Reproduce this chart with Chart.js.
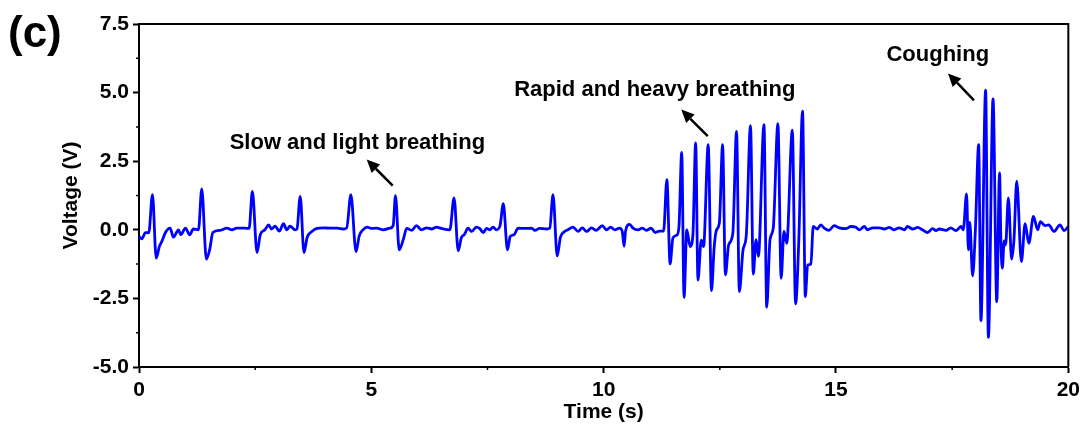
<!DOCTYPE html>
<html>
<head>
<meta charset="utf-8">
<script src="https://cdn.jsdelivr.net/npm/chart.js@4.4.1/dist/chart.umd.min.js"></script>
<style>
  html, body { margin:0; padding:0; background:#fff; }
</style>
</head>
<body>
<canvas id="chart" width="1085" height="425"></canvas>
<script>
// signal: time (s) and voltage (V)
const timeS = [
  0.00,0.06,0.14,0.21,0.29,0.37,0.44,0.49,0.57,0.67,0.74,0.85,0.90,1.00,1.09,1.17,1.28,1.35,1.45,1.52,
  1.59,1.75,1.89,2.00,2.10,2.28,2.37,2.44,2.54,2.61,2.71,2.79,2.85,2.93,3.02,3.11,3.18,3.25,3.36,3.40,
  3.47,3.55,3.62,3.72,3.83,3.97,4.11,4.26,4.40,4.47,4.56,4.67,4.74,4.82,4.91,5.00,5.11,5.26,5.40,5.47,
  5.52,5.60,5.69,5.76,5.87,5.97,6.08,6.19,6.30,6.40,6.51,6.69,6.78,6.87,6.94,7.00,7.08,7.16,7.26,7.33,
  7.41,7.48,7.55,7.62,7.69,7.77,7.84,7.93,7.99,8.07,8.16,8.30,8.45,8.52,8.62,8.77,8.84,8.91,9.00,9.07,
  9.16,9.23,9.34,9.45,9.54,9.63,9.74,9.84,9.97,10.06,10.15,10.24,10.34,10.40,10.44,10.47,10.56,10.63,10.74,10.83,
  10.92,11.02,11.11,11.20,11.29,11.36,11.43,11.49,11.57,11.62,11.68,11.73,11.79,11.86,11.92,11.98,12.03,12.10,12.15,12.25,
  12.32,12.38,12.43,12.49,12.56,12.62,12.69,12.78,12.86,12.92,13.00,13.07,13.16,13.22,13.28,13.33,13.45,13.51,13.58,13.65,
  13.75,13.82,13.88,13.94,14.06,14.13,14.20,14.28,14.34,14.39,14.46,14.51,14.60,14.67,14.74,14.85,14.96,15.07,15.21,15.32,
  15.43,15.50,15.61,15.68,15.79,15.93,16.04,16.15,16.25,16.36,16.47,16.54,16.65,16.76,16.86,16.97,17.08,17.15,17.22,17.37,
  17.47,17.58,17.69,17.74,17.81,17.85,17.88,17.94,18.00,18.07,18.12,18.22,18.28,18.38,18.46,18.52,18.55,18.58,18.62,18.65,
  18.71,18.78,18.83,18.89,18.99,19.07,19.15,19.25,19.34,19.40,19.50,19.58,19.69,19.82,19.91,20.00
];
const voltV = [
  -0.24,-0.33,-0.10,-0.11,1.28,-1.03,-0.60,-0.43,-0.10,0.06,-0.27,0.00,-0.18,0.06,-0.18,0.03,0.00,1.49,-1.07,-0.73,
  -0.10,-0.02,0.06,0.00,0.06,0.06,0.05,1.40,-0.83,-0.18,0.00,0.18,0.03,0.13,-0.05,0.22,0.00,0.13,0.00,0.03,
  1.22,-0.83,-0.27,-0.06,0.05,0.07,0.06,0.06,0.03,0.07,1.28,-0.79,-0.22,0.00,0.10,0.05,0.06,0.00,0.06,0.15,
  1.24,-0.73,-0.34,0.05,-0.02,0.15,0.00,0.07,0.03,0.10,0.05,0.00,1.16,-0.76,-0.27,-0.18,0.06,-0.06,0.10,0.05,
  -0.10,0.05,0.00,0.10,0.00,0.15,0.95,-0.73,-0.24,-0.18,0.06,0.05,0.06,-0.02,0.05,0.03,0.06,1.28,-0.95,-0.27,
  -0.06,0.00,0.10,-0.06,0.07,-0.06,0.07,-0.02,0.15,0.00,0.10,0.00,0.06,-0.06,-0.60,-0.06,0.20,0.06,0.00,0.06,
  -0.02,0.06,-0.10,-0.05,-0.05,1.83,-1.24,-0.30,-0.20,0.10,2.82,-2.46,0.00,-0.61,-0.20,3.17,-1.83,-0.38,-0.61,3.10,
  -2.22,-0.60,0.00,0.25,3.10,-1.64,-0.55,-0.12,3.59,-2.25,-0.73,-0.18,3.80,-1.61,-0.36,-0.97,3.83,-2.82,-0.36,0.06,
  3.87,-1.77,-0.06,-0.49,3.63,-2.70,-0.37,4.32,-2.43,-1.28,-1.25,0.12,0.03,0.18,0.07,-0.02,0.15,0.07,0.04,0.12,
  0.09,0.00,0.12,0.00,0.07,0.07,0.03,0.09,0.00,0.07,0.00,0.12,0.03,0.09,0.00,-0.10,0.04,-0.03,0.03,-0.02,
  0.07,-0.03,0.12,0.00,1.31,-0.73,0.27,-1.68,0.00,3.10,-3.31,5.09,-3.92,4.77,-2.62,2.07,-0.49,-1.40,-0.40,-0.55,
  1.16,-1.07,-0.37,1.77,-1.16,0.22,-0.49,0.49,0.00,0.30,0.15,0.18,-0.06,0.18,-0.03,0.12
];

const xRange = [0, 20];
const yRange = [-5, 7.5];
const xMajor = 5, xMinor = 2.5;
const yMajor = 2.5, yMinor = 1.25;

// annotations, in data units
const noteText = ['Slow and light breathing', 'Rapid and heavy breathing', 'Coughing'];
const noteAt   = [[4.70, 3.18], [11.10, 5.11], [17.19, 6.39]];
const arrowTail = [[5.46, 1.61], [12.24, 3.41], [17.97, 4.72]];
const arrowHead = [[4.90, 2.56], [11.67, 4.38], [17.41, 5.70]];

const FONT = '"Liberation Sans", Arial, sans-serif';
const isMajor = (v, step) => Math.abs(v / step - Math.round(v / step)) < 1e-6;

const extras = {
  id: 'extras',
  afterDraw(chart) {
    const ctx = chart.ctx, a = chart.chartArea;
    const xs = chart.scales.x, ys = chart.scales.y;
    ctx.save();
    // top and right frame
    ctx.strokeStyle = '#000'; ctx.lineWidth = 2;
    ctx.beginPath();
    ctx.moveTo(a.left, a.top); ctx.lineTo(a.right, a.top); ctx.lineTo(a.right, a.bottom);
    ctx.stroke();
    // minor ticks
    ctx.lineWidth = 1.5;
    ctx.beginPath();
    xs.ticks.forEach(t => {
      if (isMajor(t.value, xMajor)) return;
      const px = xs.getPixelForValue(t.value);
      ctx.moveTo(px, a.bottom); ctx.lineTo(px, a.bottom + 3);
    });
    ys.ticks.forEach(t => {
      if (isMajor(t.value, yMajor)) return;
      const py = ys.getPixelForValue(t.value);
      ctx.moveTo(a.left - 3, py); ctx.lineTo(a.left, py);
    });
    ctx.stroke();
    // notes and arrows
    ctx.fillStyle = '#000';
    ctx.font = 'bold 22px ' + FONT;
    ctx.textAlign = 'center'; ctx.textBaseline = 'middle';
    noteText.forEach((txt, i) => {
      ctx.fillText(txt, xs.getPixelForValue(noteAt[i][0]), ys.getPixelForValue(noteAt[i][1]));
      const x0 = xs.getPixelForValue(arrowTail[i][0]), y0 = ys.getPixelForValue(arrowTail[i][1]);
      const x1 = xs.getPixelForValue(arrowHead[i][0]), y1 = ys.getPixelForValue(arrowHead[i][1]);
      const ang = Math.atan2(y1 - y0, x1 - x0);
      const L = 13, W = 6;
      const bx = x1 - L * Math.cos(ang), by = y1 - L * Math.sin(ang);
      ctx.lineWidth = 2.5;
      ctx.beginPath(); ctx.moveTo(x0, y0); ctx.lineTo(bx, by); ctx.stroke();
      ctx.beginPath();
      ctx.moveTo(x1, y1);
      ctx.lineTo(bx + W * Math.sin(ang), by - W * Math.cos(ang));
      ctx.lineTo(bx - W * Math.sin(ang), by + W * Math.cos(ang));
      ctx.closePath(); ctx.fill();
    });
    // panel letter
    ctx.font = 'bold 44px ' + FONT;
    ctx.textAlign = 'left'; ctx.textBaseline = 'alphabetic';
    ctx.fillText('(c)', 8, 47);
    ctx.restore();
  }
};

new Chart(document.getElementById('chart'), {
  type: 'line',
  data: {
    datasets: [{
      data: timeS.map((t, i) => ({ x: t, y: voltV[i] })),
      borderColor: '#0000ff',
      borderWidth: 2.8,
      pointRadius: 0,
      cubicInterpolationMode: 'monotone',
      fill: false
    }]
  },
  options: {
    responsive: false,
    animation: false,
    layout: { padding: { top: 24, right: 16, left: 0, bottom: 0 } },
    plugins: { legend: { display: false }, tooltip: { enabled: false } },
    scales: {
      x: {
        type: 'linear', min: xRange[0], max: xRange[1],
        ticks: {
          stepSize: xMinor, autoSkip: false, maxRotation: 0, padding: 5, color: '#000',
          font: { family: FONT, size: 21, weight: 'bold' },
          callback: v => isMajor(v, xMajor) ? String(v) : ''
        },
        grid: {
          drawOnChartArea: false, tickLength: 6, tickWidth: 2,
          tickColor: c => (c.tick && isMajor(c.tick.value, xMajor)) ? '#000' : 'rgba(0,0,0,0)'
        },
        border: { color: '#000', width: 2 },
        title: {
          display: true, text: 'Time (s)', color: '#000',
          font: { family: FONT, size: 21, weight: 'bold' }, padding: { top: 0, bottom: 0 }
        },
        afterFit: s => { s.height = 58; }
      },
      y: {
        min: yRange[0], max: yRange[1],
        ticks: {
          stepSize: yMinor, autoSkip: false, padding: 4, color: '#000',
          font: { family: FONT, size: 21, weight: 'bold' },
          callback: v => isMajor(v, yMajor) ? v.toFixed(1) : ''
        },
        grid: {
          drawOnChartArea: false, tickLength: 6, tickWidth: 2,
          tickColor: c => (c.tick && isMajor(c.tick.value, yMajor)) ? '#000' : 'rgba(0,0,0,0)'
        },
        border: { color: '#000', width: 2 },
        title: {
          display: true, text: 'Voltage (V)', color: '#000',
          font: { family: FONT, size: 21, weight: 'bold' }, padding: { top: 59, bottom: 0 }
        },
        afterFit: s => { s.width = 139; }
      }
    }
  },
  plugins: [extras]
});
</script>
</body>
</html>
